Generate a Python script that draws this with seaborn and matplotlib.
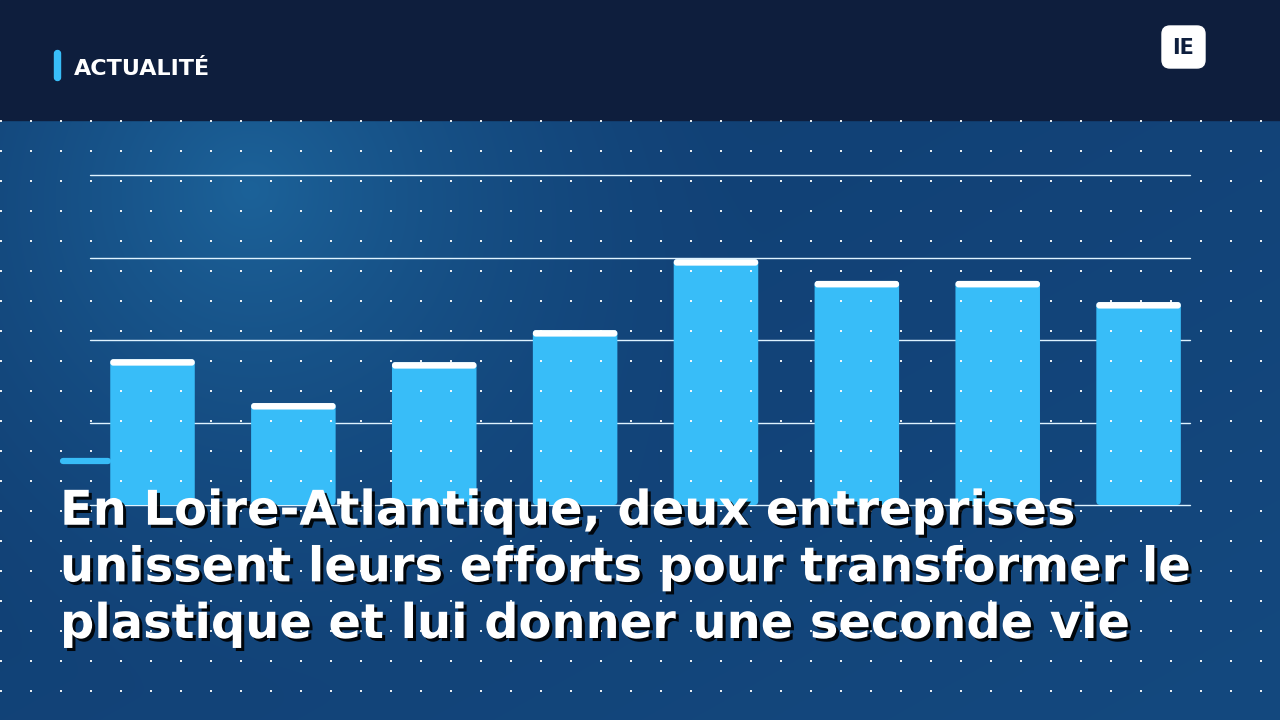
import numpy as np
import pandas as pd
import matplotlib
matplotlib.use("Agg")
import matplotlib.pyplot as plt
import matplotlib.patheffects as pe
from matplotlib.patches import Rectangle, FancyBboxPatch
from matplotlib.colors import to_rgb
import seaborn as sns

# Chart data (0-100 scale)
categories = ["1", "2", "3", "4", "5", "6", "7", "8"]
values = [44.2, 30.9, 43.3, 53.0, 74.5, 67.9, 67.9, 61.5]
grid_ticks = [0, 25, 50, 75, 100]

tag = "ACTUALITÉ"
badge = "IE"
headline = ("En Loire-Atlantique, deux entreprises\n"
            "unissent leurs efforts pour transformer le\n"
            "plastique et lui donner une seconde vie")

W, H = 1280, 720
bar_color = "#38bdf8"
header_color = "#0e1e3d"

sns.set_theme(style="white")
plt.rcParams["font.family"] = ["DejaVu Sans"]

fig = plt.figure(figsize=(12.8, 7.2), dpi=100)

# Background: diagonal gradient + soft highlight top-left
bg = fig.add_axes([0, 0, 1, 1])
bg.axis("off")
yy, xx = np.mgrid[0:H, 0:W]
t = (xx / W * 0.5 + yy / H * 0.5)[..., None]
c1, c2, spot = (np.array(to_rgb(c)) for c in ("#103c70", "#14497f", "#1c6299"))
base = c1 * (1 - t) + c2 * t
r = np.hypot(xx - 250, yy - 190)
g = (np.clip(1 - r / 520, 0, 1) ** 1.6)[..., None]
img = base * (1 - g) + spot * g
bg.imshow(img, extent=(0, W, H, 0), aspect="auto", zorder=0)
bg.set_xlim(0, W)
bg.set_ylim(H, 0)

# Header band
bg.add_patch(Rectangle((0, 0), W, 120, color=header_color, zorder=1))
bg.add_patch(FancyBboxPatch((54.5, 50.5), 6, 30, boxstyle="round,pad=0,rounding_size=3",
                            color=bar_color, zorder=2))
bg.text(74, 75, tag, color="white", fontsize=16, fontweight="bold", va="baseline", zorder=3)
bg.add_patch(FancyBboxPatch((1162, 26), 43, 42, boxstyle="round,pad=0,rounding_size=8",
                            color="white", zorder=2))
bg.text(1183.5, 47.5, badge, color=header_color, fontsize=15, fontweight="bold",
        ha="center", va="center", zorder=3)

# small accent line left of the chart
bg.plot([63, 108], [461, 461], color=bar_color, lw=4.5, solid_capstyle="round", zorder=2)

# Bar chart
ax = fig.add_axes([90 / W, (H - 505) / H, 1100 / W, 330 / H])
ax.set_zorder(2)
ax.patch.set_alpha(0)
df = pd.DataFrame({"cat": categories, "val": values})
sns.barplot(data=df, x="cat", y="val", color=bar_color, saturation=1, width=0.6, ax=ax)

ax.set_xlim(-0.4437, 7.365)
ax.set_ylim(0, 100)
ax.axis("off")

px_x = 1100 / (7.365 + 0.4437)
px_y = 330 / 100
aspect = px_x / px_y

for p in list(ax.patches):
    x0, w, h = p.get_x(), p.get_width(), p.get_height()
    p.remove()
    ax.add_patch(FancyBboxPatch((x0, 0), w, h, boxstyle=f"round,pad=0,rounding_size={4 / px_x}",
                                mutation_aspect=aspect, color=bar_color, zorder=2, lw=0))
    cap = 6.5 / px_y
    ax.add_patch(FancyBboxPatch((x0, h - cap), w, cap,
                                boxstyle=f"round,pad=0,rounding_size={3 / px_x}",
                                mutation_aspect=aspect, color="white", zorder=3, lw=0))

for v in grid_ticks:
    ax.axhline(v, color="#dff3ff", lw=1.0, zorder=1, clip_on=False)

# Dot pattern overlay + headline
ov = fig.add_axes([0, 0, 1, 1])
ov.set_zorder(3)
ov.axis("off")
dots = np.zeros((H, W, 4))
for yd in range(120, H, 30):
    for xd in range(0, W, 30):
        dots[yd:yd + 2, xd:xd + 2] = [1, 1, 1, 0.9]
ov.imshow(dots, extent=(0, W, H, 0), aspect="auto", interpolation="nearest", zorder=0)
ov.set_xlim(0, W)
ov.set_ylim(H, 0)

# va="baseline" anchors the last line here
ov.text(60, 638, headline, color="white", fontsize=34.5, fontweight="bold",
        va="baseline", ha="left", linespacing=1.26, zorder=5,
        path_effects=[pe.withSimplePatchShadow(offset=(2.2, -2.2), shadow_rgbFace="black", alpha=0.9)])

fig.savefig("out.png", dpi=100)
